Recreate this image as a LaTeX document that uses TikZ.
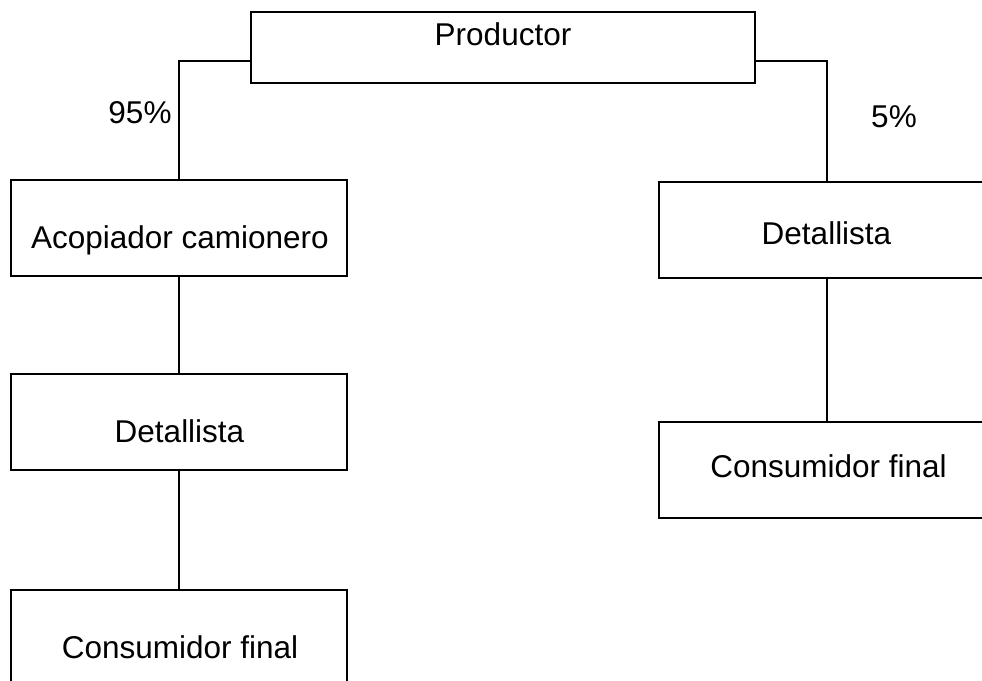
\documentclass[tikz,border=0pt]{standalone}
\usepackage{fontspec}
\setmainfont{Liberation Sans}
\begin{document}
\begin{tikzpicture}[x=1pt,y=-1pt,
  box/.style={draw=black, line width=2pt, rectangle, inner sep=0pt},
  lbl/.style={anchor=base, inner sep=0pt, font=\fontsize{31.5}{36}\selectfont},
  conn/.style={draw=black, line width=2pt}]
\useasboundingbox (0,0) rectangle (982,680);
\clip (0,0) rectangle (982,680);
\fill[white] (0,0) rectangle (982,680);
% boxes
\node[box, minimum width=504pt, minimum height=71pt] (prod) at (503,47.5) {};
\node[box, minimum width=336pt, minimum height=96pt] (acop) at (179,228) {};
\node[box, minimum width=336pt, minimum height=96pt] (detL) at (179,422) {};
\node[box, minimum width=336pt, minimum height=100pt] (consL) at (179,640) {};
\node[box, minimum width=336pt, minimum height=96pt] (detR) at (827,230) {};
\node[box, minimum width=336pt, minimum height=96pt] (consR) at (827,470) {};
% labels
\node[lbl] (tprod) at (503,45) {Productor};
\node[lbl] (tacop) at (180,248) {Acopiador camionero};
\node[lbl] (tdetL) at (179.5,442) {Detallista};
\node[lbl] (tconsL) at (180,658) {Consumidor final};
\node[lbl] (tdetR) at (826.5,244) {Detallista};
\node[lbl] (tconsR) at (828.5,477) {Consumidor final};
\node[lbl] (p95) at (140,123) {95\%};
\node[lbl] (p5) at (894,127) {5\%};
% connectors
\draw[conn] ([yshift=23pt]prod.south west) -| (acop.north);
\draw[conn] ([yshift=23pt]prod.south east) -| (detR.north);
\draw[conn] (acop.south) -- (detL.north);
\draw[conn] (detL.south) -- (consL.north);
\draw[conn] (detR.south) -- (consR.north);
\end{tikzpicture}
\end{document}
